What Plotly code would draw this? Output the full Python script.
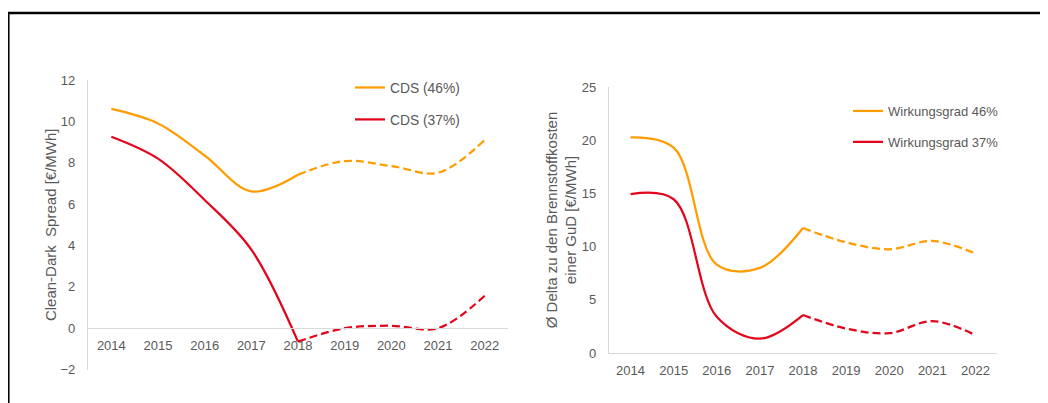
import plotly.graph_objects as go

years = ["2014", "2015", "2016", "2017", "2018", "2019", "2020", "2021", "2022"]

# Left chart: Clean-Dark Spread [€/MWh]
cds_46 = [10.6, 9.9, 8.35, 6.62, 7.42, 8.08, 7.84, 7.52, 9.1]
cds_37 = [9.26, 8.2, 6.2, 3.8, -0.65, 0.0, 0.12, 0.0, 1.57]

# Right chart: Ø Delta zu den Brennstoffkosten einer GuD [€/MWh]
wg_46 = [20.27, 19.3, 8.3, 8.0, 11.75, 10.4, 9.75, 10.53, 9.35]
wg_37 = [14.94, 14.45, 3.4, 1.35, 3.57, 2.3, 1.86, 3.0, 1.68]

ORANGE = "#FF9C00"
RED = "#E3051B"
TXT = "#595959"
AX = "#D9D9D9"
FONT = "Liberation Sans, Arial, sans-serif"

OFF = 8                      # page body margin of the rendered html
W, H = 1048 - OFF, 403 - OFF
split = 4  # index of 2018: solid up to it, dashed from it


def px_x(p):
    return (p - OFF) / W


def px_y(p):
    return 1 - (p - OFF) / H


fig = go.Figure()


def add_pair(values, name, color, xa, ya, legend, group):
    fig.add_trace(go.Scatter(
        x=years[:split + 1], y=values[:split + 1], name=name, mode="lines",
        line=dict(color=color, width=2.25, shape="spline"),
        xaxis=xa, yaxis=ya, legend=legend, legendgroup=group,
        hoverinfo="x+y"))
    fig.add_trace(go.Scatter(
        x=years[split:], y=values[split:], name=name, mode="lines",
        line=dict(color=color, width=2.25, shape="spline", dash="8px,4px"),
        xaxis=xa, yaxis=ya, legend=legend, legendgroup=group,
        showlegend=False, hoverinfo="x+y"))


add_pair(cds_46, "CDS (46%)", ORANGE, "x", "y", "legend", "a46")
add_pair(cds_37, "CDS (37%)", RED, "x", "y", "legend", "a37")
add_pair(wg_46, "Wirkungsgrad 46%", ORANGE, "x2", "y2", "legend2", "b46")
add_pair(wg_37, "Wirkungsgrad 37%", RED, "x2", "y2", "legend2", "b37")

# left plot area geometry (window pixel rows of -2 and 12)
l_y0, l_y1 = 369.6, 80.0
l_ymin, l_ymax = -2, 12
zero_pix = l_y0 - (0 - l_ymin) / (l_ymax - l_ymin) * (l_y0 - l_y1)

common_x = dict(type="category", categoryorder="array", categoryarray=years,
                range=[-0.5, len(years) - 0.5], automargin=False,
                showgrid=False, zeroline=False, showline=True, linecolor=AX,
                linewidth=1.3, ticks="", tickfont=dict(size=13, color=TXT),
                ticklabelstandoff=5, fixedrange=True)
common_y = dict(showgrid=False, zeroline=False, showline=True, linecolor=AX,
                linewidth=1.3, ticks="", tickfont=dict(size=13, color=TXT),
                ticklabelstandoff=9, fixedrange=True, automargin=False)

fig.update_layout(
    width=W, height=H,
    margin=dict(l=0, r=0, t=0, b=0, autoexpand=False),
    paper_bgcolor="white", plot_bgcolor="white",
    font=dict(family=FONT, color=TXT),
    xaxis=dict(domain=[px_x(88), px_x(508)], anchor="free",
               position=px_y(zero_pix), **common_x),
    yaxis=dict(domain=[px_y(l_y0), px_y(l_y1)], anchor="x",
               range=[l_ymin, l_ymax], dtick=2, tick0=0,
               title=dict(text="Clean-Dark  Spread [€/MWh]",
                          font=dict(size=15, color=TXT), standoff=0),
               **common_y),
    xaxis2=dict(domain=[px_x(609), px_x(997)], anchor="y2", **common_x),
    yaxis2=dict(domain=[px_y(353), px_y(87)], anchor="x2",
                range=[0, 25], dtick=5, tick0=0,
                title=dict(text="Ø Delta zu den Brennstoffkosten<br>einer GuD [€/MWh]",
                           font=dict(size=15, color=TXT), standoff=1),
                **common_y),
    legend=dict(x=px_x(350), y=px_y(72), xanchor="left", yanchor="top",
                bgcolor="rgba(0,0,0,0)", font=dict(size=13.8, color=TXT),
                tracegroupgap=11, itemwidth=30),
    legend2=dict(x=px_x(848), y=px_y(96), xanchor="left", yanchor="top",
                 bgcolor="rgba(0,0,0,0)", font=dict(size=13, color=TXT),
                 tracegroupgap=11, itemwidth=30),
    showlegend=True,
    shapes=[
        dict(type="line", xref="paper", yref="paper",
             x0=px_x(7), x1=1.0, y0=px_y(13), y1=px_y(13),
             line=dict(color="black", width=2.5)),
        dict(type="line", xref="paper", yref="paper",
             x0=px_x(8.3), x1=px_x(8.3), y0=px_y(12), y1=0.0,
             line=dict(color="black", width=2.5)),
    ],
)

fig.write_html("out.html")
